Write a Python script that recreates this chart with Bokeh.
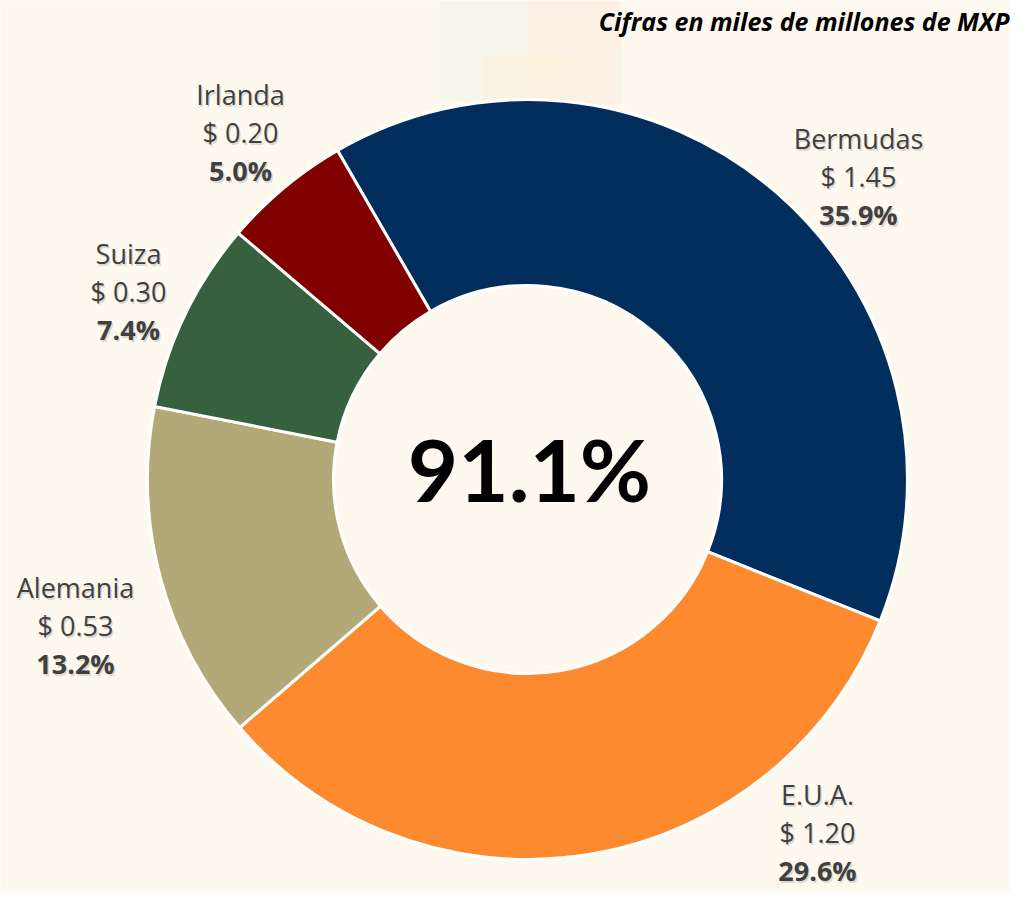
import math
from bokeh.plotting import figure
from bokeh.models import Range1d
from bokeh.core.properties import value
from bokeh.embed import file_html
from bokeh.resources import INLINE

# ---- data ----
countries = ["Bermudas", "E.U.A.", "Alemania", "Suiza", "Irlanda"]
amounts = [1.45, 1.20, 0.53, 0.30, 0.20]
shares = [35.9, 29.6, 13.2, 7.4, 5.0]
total_share = "91.1%"
title_text = "Cifras en miles de millones de MXP"

# ---- styles / layout ----
colors = ["#012E5C", "#FE8A2F", "#B3A978", "#37603F", "#800000"]
BG = "#FDF9EE"
FONT = "Open Sans"
PAGE_H = 909
cx, cy = 527, PAGE_H - 479
r_out, r_in = 380, 194
first_slice_clock_deg = -30.0   # start of first slice, clockwise from 12 o'clock
# label anchor: centre x and vertical middle of first line (pixels from top-left)
label_x = [858, 817, 75, 128, 240]
label_y = [138, 794, 587, 253, 94]
line_gap = 38

p = figure(width=1010, height=893, x_range=Range1d(0, 1010), y_range=Range1d(PAGE_H - 893, PAGE_H),
           output_backend="svg", toolbar_location=None, min_border=0)
p.axis.visible = False
p.grid.visible = False
p.outline_line_color = None
p.background_fill_color = BG
p.border_fill_color = BG

# faint decorative background shapes
p.quad(left=[440], right=[528], top=[PAGE_H], bottom=[PAGE_H - 100], fill_color="#EEF1E4", fill_alpha=0.45, line_color=None)
p.quad(left=[528], right=[620], top=[PAGE_H], bottom=[PAGE_H - 104], fill_color="#FBE6D6", fill_alpha=0.45, line_color=None)
p.quad(left=[482], right=[572], top=[PAGE_H - 55], bottom=[PAGE_H - 100], fill_color="#FCEFD6", fill_alpha=0.45, line_color=None)

total = sum(amounts)
starts, ends = [], []
cum = 0.0
for a in amounts:
    s_clock = first_slice_clock_deg + 360 * cum / total
    cum += a
    e_clock = first_slice_clock_deg + 360 * cum / total
    starts.append(math.radians(90 - s_clock))
    ends.append(math.radians(90 - e_clock))

p.annular_wedge(x=cx, y=cy, inner_radius=r_in, outer_radius=r_out,
                start_angle=starts, end_angle=ends, direction="clock",
                fill_color=colors, line_color="white", line_width=3)

# labels
for i, name in enumerate(countries):
    lines = [(name, "normal"), ("$ %.2f" % amounts[i], "normal"), ("%.1f%%" % shares[i], "bold")]
    for j, (txt, style) in enumerate(lines):
        yy = PAGE_H - (label_y[i] + j * line_gap)
        p.text(x=[label_x[i]], y=[yy], text=[txt], text_font=value(FONT), text_font_size="27px",
               text_font_style=style, text_color="#000000", text_alpha=0.15,
               text_align="center", text_baseline="middle", x_offset=1.5, y_offset=1.5)
        p.text(x=[label_x[i]], y=[yy], text=[txt], text_font=value(FONT), text_font_size="27px",
               text_font_style=style, text_color="#404040",
               text_align="center", text_baseline="middle")

# centre text
p.text(x=[cx + 2], y=[PAGE_H - 468], text=[total_share], text_font=value("Lato"), text_font_size="87px",
       text_font_style="bold", text_color="#000000", text_align="center", text_baseline="middle")

# subtitle
p.text(x=[1009], y=[PAGE_H - 20], text=[title_text], text_font=value(FONT), text_font_size="25px",
       text_font_style="bold italic", text_color="#000000", text_align="right", text_baseline="middle")

html = file_html(p, INLINE)
html = html.replace("<body>", '<body style="background-color:%s">' % BG, 1)
open("out.html", "w").write(html)
